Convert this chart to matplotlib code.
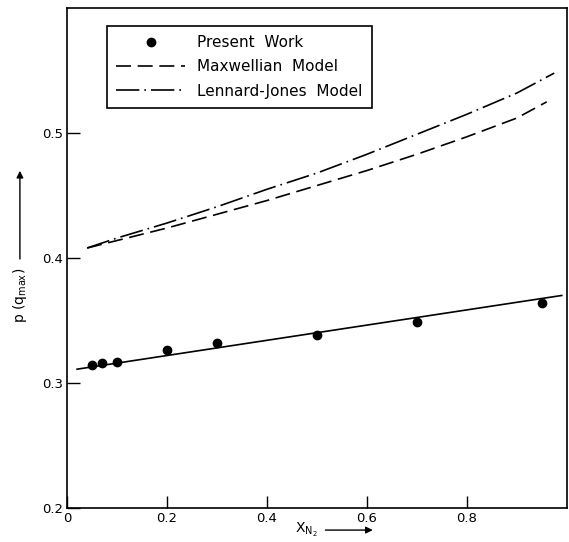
import matplotlib.pyplot as plt

# Present work (measured points)
x_meas = [0.05, 0.07, 0.10, 0.20, 0.30, 0.50, 0.70, 0.95]
p_meas = [0.314, 0.316, 0.317, 0.326, 0.332, 0.338, 0.349, 0.364]

# straight line through measured points
x_fit = [0.02, 0.99]
p_fit = [0.311, 0.370]

# Maxwellian model
x_max = [0.04, 0.1, 0.2, 0.3, 0.4, 0.5, 0.6, 0.7, 0.8, 0.9, 0.96]
p_max = [0.408, 0.414, 0.424, 0.435, 0.446, 0.458, 0.470, 0.483, 0.497, 0.512, 0.525]

# Lennard-Jones model
x_lj = [0.04, 0.1, 0.2, 0.3, 0.4, 0.5, 0.6, 0.7, 0.8, 0.9, 0.975]
p_lj = [0.408, 0.416, 0.428, 0.441, 0.455, 0.468, 0.483, 0.499, 0.515, 0.532, 0.548]

xticks = [0, 0.2, 0.4, 0.6, 0.8]
xticklabels = ['0', '0.2', '0.4', '0.6', '0.8']
yticks = [0.2, 0.3, 0.4, 0.5]
yticklabels = ['0.2', '0.3', '0.4', '0.5']

fig = plt.figure(figsize=(5.69, 5.42), dpi=100)
ax = fig.add_axes([0.118, 0.063, 0.878, 0.922])

ax.plot(x_meas, p_meas, 'o', color='black', markersize=6, label='Present  Work')
ax.plot(x_max, p_max, color='black', lw=1.2, dashes=(9, 4), label='Maxwellian  Model')
ax.plot(x_lj, p_lj, color='black', lw=1.2, dashes=(14, 3, 1, 3), label='Lennard-Jones  Model')
ax.plot(x_fit, p_fit, color='black', lw=1.2)

ax.set_xlim(0, 1.0)
ax.set_ylim(0.2, 0.6)
ax.set_xticks(xticks)
ax.set_xticklabels(xticklabels)
ax.set_yticks(yticks)
ax.set_yticklabels(yticklabels)
ax.tick_params(direction='in', length=9, width=1, labelsize=9.5, pad=3)
for s in ax.spines.values():
    s.set_linewidth(1.2)

leg = ax.legend(loc='upper left', bbox_to_anchor=(0.08, 0.964), fontsize=11,
                handlelength=4.5, handletextpad=0.8, labelspacing=0.6,
                borderpad=0.6, borderaxespad=0, fancybox=False, framealpha=1)
leg.get_frame().set_edgecolor('black')
leg.get_frame().set_linewidth(1.2)

# y label with arrow
fig.text(0.035, 0.455, r'p (q$_{\mathrm{max}}$)', rotation=90, fontsize=10,
         ha='center', va='center')
ax.annotate('', xy=(0.035, 0.69), xytext=(0.035, 0.517), xycoords='figure fraction',
            arrowprops=dict(arrowstyle='-|>', color='black', lw=1, mutation_scale=10))

# x label with arrow
fig.text(0.538, 0.022, r'X$_{\mathrm{N_2}}$', fontsize=10, ha='center', va='center')
ax.annotate('', xy=(0.66, 0.022), xytext=(0.567, 0.022), xycoords='figure fraction',
            arrowprops=dict(arrowstyle='-|>', color='black', lw=1, mutation_scale=10))

fig.savefig('out.png', dpi=100)
